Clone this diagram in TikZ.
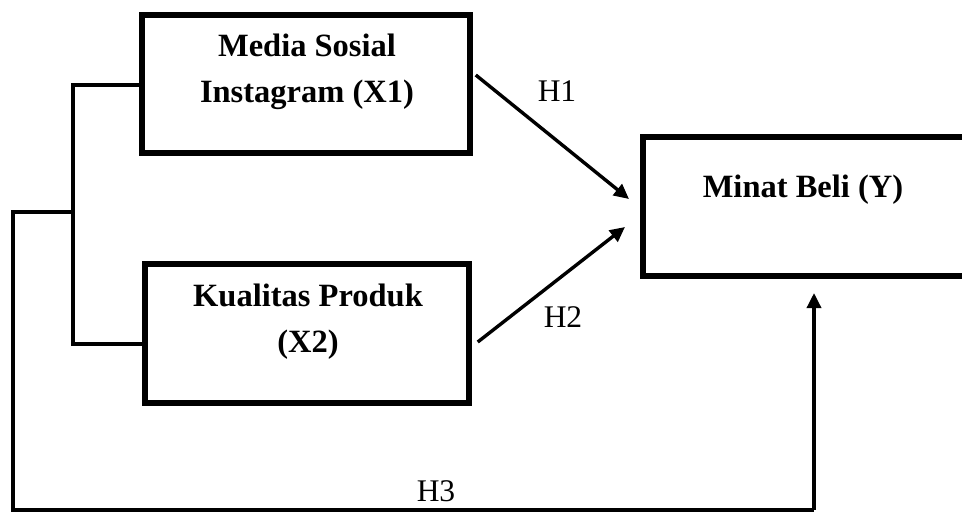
\documentclass[tikz,border=0pt]{standalone}
\usepackage{fontspec}
\setmainfont{Liberation Serif}
\usetikzlibrary{arrows.meta,calc}
\begin{document}
\begin{tikzpicture}[x=1pt,y=-1pt,
  varbox/.style={draw=black,line width=5.5pt,rectangle,inner sep=0pt},
  btext/.style={align=center,inner sep=0pt,font=\fontsize{32.5}{46}\selectfont\bfseries},
  hlabel/.style={inner sep=0pt,font=\fontsize{31.5}{36}\selectfont},
  conn/.style={draw=black,line width=3.4pt,line join=miter},
  arr/.style={conn,-{Triangle[length=15pt,width=14pt]}}]
\useasboundingbox (0,0) rectangle (962,512);
% boxes
\node[varbox,minimum width=328pt,minimum height=138pt] (x1) at (306,84) {};
\node[varbox,minimum width=324pt,minimum height=139pt] (x2) at (307,333.5) {};
\node[varbox,minimum width=340pt,minimum height=139pt,anchor=west] (y) at (640,206.5) {};
% texts
\node[btext] (tx1) at ($(x1.center)+(1,-12.5)$) {Media Sosial\\Instagram (X1)};
\node[btext] (tx2) at ($(x2.center)+(1,-12)$) {Kualitas Produk\\(X2)};
\node[btext] (ty) at (803,190) {Minat Beli (Y)};
% labels
\node[hlabel] (h1) at (557,91) {H1};
\node[hlabel] (h2) at (563,317) {H2};
\node[hlabel] (h3) at (436,491) {H3};
% bracket
\coordinate (b1) at (73,85);
\coordinate (b2) at (73,344);
\coordinate (bm) at (73,212);
\coordinate (bl) at (13,212);
\coordinate (bb) at (13,510);
\coordinate (br) at (814,510);
\coordinate (yt) at (814,293);
\draw[conn] (x1.west |- b1) -- (b1) -- (b2) -- (x2.west |- b2);
\draw[conn] (bm) -- (bl) -- (bb) -- (br);
\draw[arr] (br) -- (yt);
% arrows
\draw[arr] ($(x1.east)+(3,-9)$) -- (629,199);
\draw[arr] ($(x2.east)+(6,8.5)$) -- (625,227);
\end{tikzpicture}
\end{document}
